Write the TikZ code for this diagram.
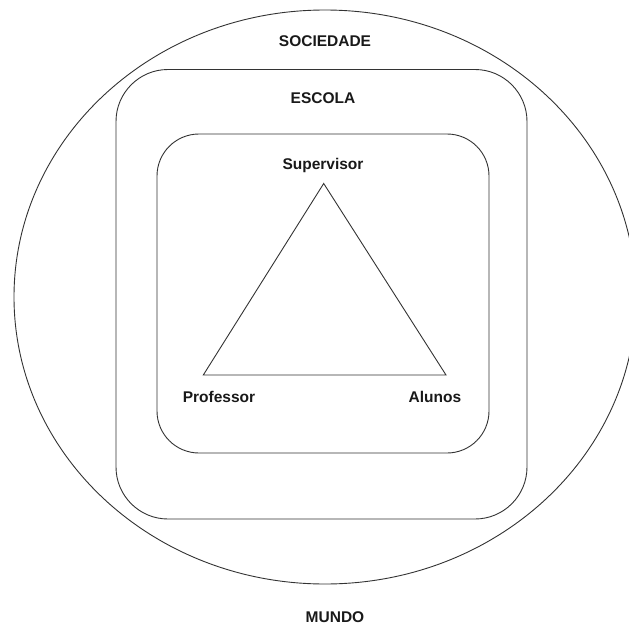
\documentclass[tikz,border=0pt]{standalone}
\usepackage{fontspec}
\setmainfont{Liberation Sans}
\begin{document}
\begin{tikzpicture}[x=1pt,y=-1pt,
  shapeline/.style={draw=black!80,line width=0.9pt},
  lbl/.style={font=\fontsize{15.5}{18}\selectfont\bfseries,text=black!90,inner sep=0pt}]
\useasboundingbox (0,0) rectangle (629,626);
\clip (0,0) rectangle (629,626);
\draw[shapeline] (325,297) ellipse [x radius=311, y radius=287];
\draw[shapeline,rounded corners=52pt] (116,69.5) rectangle (527,519);
\draw[shapeline,rounded corners=42pt] (157,134) rectangle (489,453);
\coordinate (ts) at (323.7,183.5);
\coordinate (tp) at (203.3,375);
\coordinate (ta) at (446,375);
\draw[shapeline,line join=miter] (ts) -- (tp) -- (ta) -- cycle;
\node[lbl] (soc) at (325,41) {SOCIEDADE};
\node[lbl] (esc) at (323,98) {ESCOLA};
\node[lbl] (sup) at (323,165) {Supervisor};
\node[lbl] (prof) at (219,397) {Professor};
\node[lbl] (alu) at (435,397) {Alunos};
\node[lbl] (mun) at (335,617) {MUNDO};
\end{tikzpicture}
\end{document}
